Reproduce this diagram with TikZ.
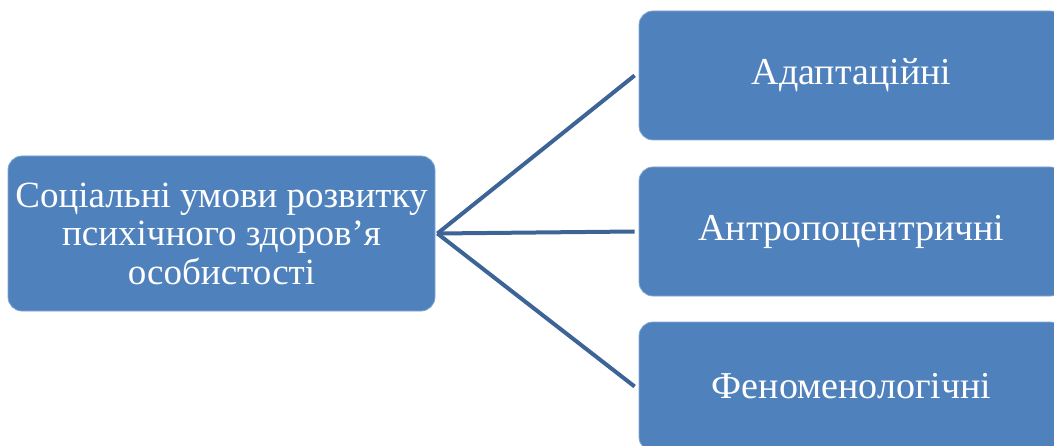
\documentclass[tikz,border=0pt]{standalone}
\usepackage{fontspec}
\setmainfont{Liberation Serif}
\definecolor{boxfill}{HTML}{4F81BD}
\definecolor{linecol}{HTML}{3D6496}
\begin{document}
\begin{tikzpicture}[x=1pt,y=-1pt,
  box/.style={fill=boxfill, draw=boxfill!70!white, line width=0.8pt, rounded corners=14pt,
    text=white, inner sep=0pt, align=center, font=\fontsize{38}{38.5}\selectfont},
  conn/.style={draw=linecol, line width=4pt}]
\useasboundingbox (0,0) rectangle (1054,446);
\clip (0,0) rectangle (1054,446);
\node[box, minimum width=427pt, minimum height=155pt, font=\fontsize{37}{38.5}\selectfont] (src) at (221.5,233.5)
  {Соціальні умови розвитку\\психічного здоров’я\\особистості};
\node[box, minimum width=425pt, minimum height=129pt] (a) at (851.5,75.5) {Адаптаційні};
\node[box, minimum width=425pt, minimum height=129pt] (b) at (851.5,231.5) {Антропоцентричні};
\node[box, minimum width=425pt, minimum height=129pt] (c) at (851.5,386.5) {Феноменологічні};
\coordinate (s) at ([xshift=2pt]src.east);
\draw[conn] (s) -- ([xshift=-4pt]a.west);
\draw[conn] (s) -- ([xshift=-4pt]b.west);
\draw[conn] (s) -- ([xshift=-4pt]c.west);
\end{tikzpicture}
\end{document}
